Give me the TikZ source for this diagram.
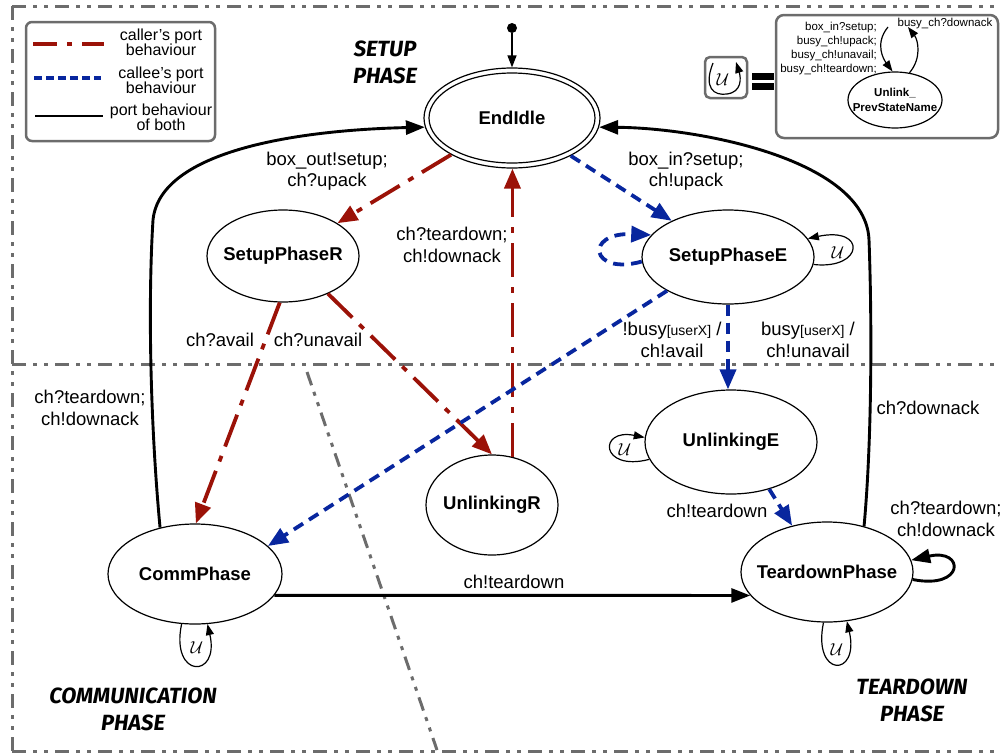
\documentclass[tikz,border=0pt]{standalone}
\usepackage{fontspec}
\setmainfont{Liberation Sans}
\newfontfamily\phasefont{Fira Sans}
\usetikzlibrary{arrows.meta,shapes.geometric}

\definecolor{callerred}{RGB}{155,18,8}
\definecolor{calleeblue}{RGB}{8,38,158}
\definecolor{framegray}{RGB}{108,108,108}

\newcommand{\usym}{{\fontsize{17}{17}\selectfont$\mathcal{U}$}}

\begin{document}
\begin{tikzpicture}[x=1pt,y=-1pt,
  state/.style={ellipse,draw,line width=1.2pt,inner xsep=-40pt,inner ysep=0pt,
    font=\fontsize{18.5}{21}\selectfont\bfseries},
  lbl/.style={align=center,inner sep=0pt,font=\fontsize{18.5}{21.5}\selectfont},
  legtext/.style={align=center,inner sep=0pt,font=\fontsize{16}{15}\selectfont},
  smalltext/.style={inner sep=0pt,font=\fontsize{11.5}{14.3}\selectfont},
  phase/.style={align=center,inner sep=0pt,
    font=\phasefont\fontsize{22}{27}\selectfont\bfseries\itshape},
  callerline/.style={draw=callerred,line width=3.8pt,
    dash pattern=on 34pt off 10pt on 6pt off 10pt},
  calleeline/.style={draw=calleeblue,line width=3.8pt,
    dash pattern=on 11pt off 7pt},
  bothline/.style={draw=black,line width=2.9pt},
  caller/.style={callerline,-{Triangle[length=20pt,width=16pt,fill=callerred]}},
  callee/.style={calleeline,-{Triangle[length=20pt,width=16pt,fill=calleeblue]}},
  both/.style={bothline,-{Triangle[length=19pt,width=14pt]}},
  uloop/.style={draw=black,line width=1.2pt,-{Triangle[length=11pt,width=8pt]}},
  frameline/.style={draw=framegray,line width=3pt,
    dash pattern=on 14pt off 7pt on 4pt off 7pt on 4pt off 7pt},
  graybox/.style={draw=framegray,line width=2.5pt,inner sep=0pt}
]
\useasboundingbox (0,0) rectangle (1000,755);

% phase frame and separators
\draw[frameline] (12,6) -- (1000,6);
\draw[frameline] (12,6) -- (12,752);
\draw[frameline] (12,751) -- (1000,751);
\draw[frameline] (12,364) -- (1000,364);
\draw[frameline] (307,372) -- (437,750);

% phase names
\node[phase] at (385,62) {SETUP\\PHASE};
\node[phase] at (133,709) {COMMUNICATION\\PHASE};
\node[phase] at (912,700) {TEARDOWN\\PHASE};

% legend
\node[graybox,rounded corners=6pt,minimum width=189pt,minimum height=119pt] (legend) at (120.5,81.5) {};
\draw[draw=callerred,line width=3.6pt,dash pattern=on 24pt off 10pt on 5pt off 10pt] (33,44) -- (104,44);
\draw[calleeline,dash pattern=on 8pt off 4pt] (34,78) -- (101,78);
\draw[bothline] (35,116) -- (103,116);
\node[legtext] at (161,42) {caller's port\\behaviour};
\node[legtext] at (161,80) {callee's port\\behaviour};
\node[legtext] at (161,117) {port behaviour\\of both};

% definition of the unlink loop shorthand
\node[graybox,rounded corners=5pt,minimum width=42pt,minimum height=41pt] (ubox) at (726,77.5) {};
\node at (723,80) {\usym};
\coordinate (uiconStart) at (713,63);
\coordinate (uiconEnd) at (736,62);
\draw[uloop] (uiconStart) .. controls (703,88) and (714,96) .. (727,94)
  .. controls (742,92) and (741,78) .. (uiconEnd);
\fill (752,73) rectangle (774,80);
\fill (752,83) rectangle (774,90);

\node[graybox,rounded corners=8pt,minimum width=222pt,minimum height=123pt] (defbox) at (887,76.5) {};
\node[ellipse,draw,line width=1.2pt,inner xsep=-30pt,inner ysep=0pt,
  minimum width=94pt,minimum height=56pt,align=center,
  font=\fontsize{11.5}{15}\selectfont\bfseries] (uprev) at (895,100) {Unlink\_\\PrevStateName};
\node[smalltext,align=right,anchor=east] at (877,48.5)
  {box\_in?setup;\\busy\_ch!upack;\\busy\_ch!unavail;\\busy\_ch!teardown;};
\node[smalltext] at (945,24) {busy\_ch?downack};
\coordinate (defIn) at (888,27);
\coordinate (defOut) at (908,27);
\draw[uloop] (defIn) .. controls (874,44) and (884,60) .. (uprev.95);
\draw[uloop] (uprev.62) .. controls (922,58) and (918,40) .. (defOut);

% states
\node[state,minimum width=176pt,minimum height=100pt] (ei) at (512,118) {EndIdle};
\node[ellipse,draw,line width=1.2pt,inner sep=0pt,minimum width=166pt,minimum height=90pt] (eiinner) at (ei) {};
\node[state,minimum width=152pt,minimum height=92pt] (sr) at (283,256) {SetupPhaseR};
\node[state,minimum width=172pt,minimum height=94pt] (se) at (728,257) {SetupPhaseE};
\node[state,minimum width=172pt,minimum height=104pt] (ue) at (731,442) {UnlinkingE};
\node[state,minimum width=132pt,minimum height=100pt] (ur) at (492,505) {UnlinkingR};
\node[state,minimum width=174pt,minimum height=100pt] (cp) at (195,574) {CommPhase};
\node[state,minimum width=172pt,minimum height=100pt] (tp) at (827,572) {TeardownPhase};

% initial state marker
\node[circle,fill,inner sep=0pt,minimum size=10pt] (init) at (512,28) {};
\draw[line width=1.3pt,-{Triangle[length=12pt,width=9pt]}] (init) -- (ei);

% caller transitions
\draw[caller] (ei) -- (sr);
\draw[caller] (ur.67) -- (ur.67 |- ei.south);
\draw[caller] (sr.-94) -- (cp.89);
\draw[caller] (sr.-40) -- (ur.north);

% callee transitions
\draw[callee] (ei) -- (se);
\draw[callee] (se.-151) -- (cp.21);
\draw[callee] (se.south) -- (se.south |- ue.north);
\draw[callee] (ue.-51) -- (tp.127);
\draw[callee] (se.183) .. controls (590,276) and (584,232) .. (se.164);

% transitions shared by both ports
\draw[both] (cp.-15) -- (tp.197);
\draw[both] (cp.127) .. controls (150,420) and (148,300) .. (153,220)
  .. controls (160,150) and (300,130) .. (ei.186);
\draw[both] (tp.51) .. controls (872,440) and (872,320) .. (869,240)
  .. controls (866,160) and (700,128) .. (ei.-6);
\draw[both] (tp.-5) .. controls (965,590) and (965,548) .. (tp.8);

% unlink loops
\draw[uloop] (se.-5) .. controls (864,270) and (867,226) .. (se.13);
\node at (838,253) {\usym};
\draw[uloop] (ue.192) .. controls (600,472) and (598,428) .. (ue.177);
\node at (625,450) {\usym};
\draw[uloop] (tp.-94) .. controls (812,678) and (860,678) .. (tp.-68);
\node at (837,650) {\usym};
\draw[uloop] (cp.-105) .. controls (170,679) and (220,679) .. (cp.-76);
\node at (197,648) {\usym};

% transition labels
\node[lbl] at (327,171) {box\_out!setup;\\ch?upack};
\node[lbl] at (686,171) {box\_in?setup;\\ch!upack};
\node[lbl] at (452,245) {ch?teardown;\\ch!downack};
\node[lbl] at (220,340) {ch?avail};
\node[lbl] at (318,340) {ch?unavail};
\node[lbl] at (672,340) {!busy{\fontsize{14}{14}\selectfont[userX]} /\\ch!avail};
\node[lbl] at (808,340) {busy{\fontsize{14}{14}\selectfont[userX]} /\\ch!unavail};
\node[lbl] at (90,408) {ch?teardown;\\ch!downack};
\node[lbl] at (928,408) {ch?downack};
\node[lbl] at (717,511) {ch!teardown};
\node[lbl] at (514,582) {ch!teardown};
\node[lbl] at (946,519) {ch?teardown;\\ch!downack};
\end{tikzpicture}
\end{document}
